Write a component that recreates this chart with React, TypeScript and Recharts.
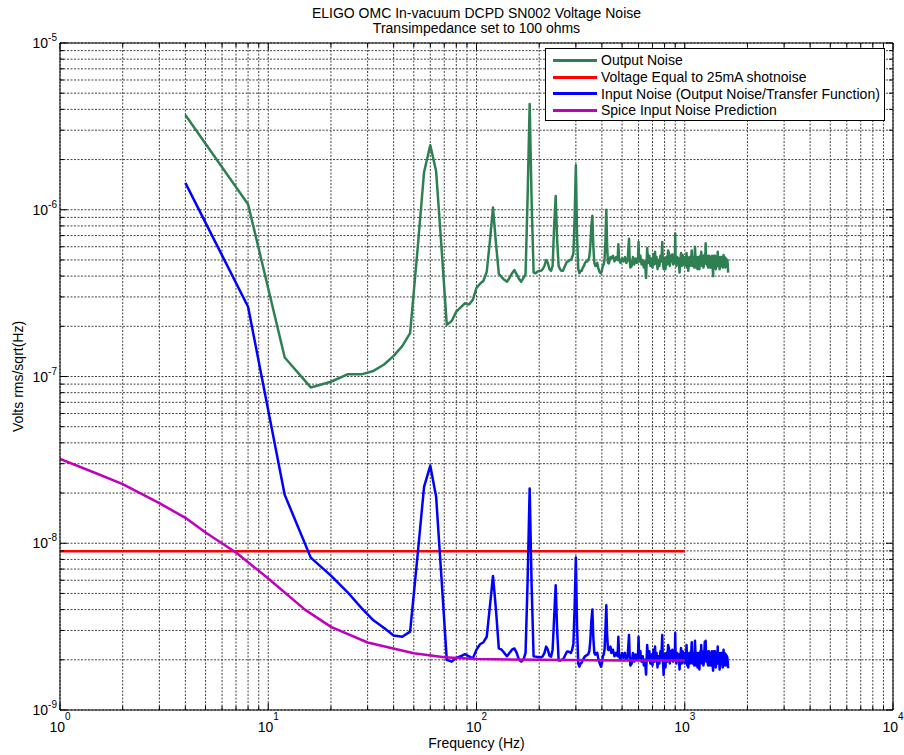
import React from "react";
import {
  LineChart,
  Line,
  XAxis,
  YAxis,
  CartesianGrid,
  ReferenceLine,
  Legend,
} from "recharts";

// rows are [frequency Hz, output noise V/rtHz, input noise V/rtHz]
const lowBand: [number, number, number][] = [
  [4, 3.7e-6, 1.45e-6],
  [8, 1.08e-6, 2.62e-7],
  [12, 1.3e-7, 1.95e-8],
  [16, 8.6e-8, 8.2e-9],
  [20, 9.3e-8, 6.4e-9],
  [24, 1.03e-7, 5.1e-9],
  [28, 1.03e-7, 4.1e-9],
  [32, 1.08e-7, 3.45e-9],
  [36, 1.18e-7, 3.1e-9],
  [40, 1.33e-7, 2.8e-9],
  [44, 1.52e-7, 2.75e-9],
  [48, 1.82e-7, 2.95e-9],
  [52, 5.6e-7, 8.2e-9],
  [56, 1.68e-6, 2.18e-8],
  [60, 2.44e-6, 2.92e-8],
  [64, 1.7e-6, 1.9e-8],
  [68, 5.8e-7, 6.0e-9],
  [72, 2.04e-7, 2.0e-9],
  [76, 2.15e-7, 1.95e-9],
  [80, 2.45e-7, 2.05e-9],
  [84, 2.6e-7, 2.1e-9],
  [88, 2.75e-7, 2.16e-9],
  [92, 2.7e-7, 2.1e-9],
  [96, 2.88e-7, 2.04e-9],
  [100, 3.4e-7, 2.3e-9],
  [104, 3.6e-7, 2.48e-9],
  [108, 3.75e-7, 2.55e-9],
  [112, 4.25e-7, 2.75e-9],
];

const harmonicBand: [number, number, number][] = [
  [116, 6.5e-7, 4.2e-9],
  [120, 1.03e-6, 6.37e-9],
  [124, 6.3e-7, 4.0e-9],
  [128, 4.12e-7, 2.34e-9],
  [132, 3.95e-7, 2.3e-9],
  [136, 3.8e-7, 2.2e-9],
  [140, 3.7e-7, 2.1e-9],
  [144, 3.9e-7, 2.2e-9],
  [148, 4.15e-7, 2.3e-9],
  [152, 4.35e-7, 2.34e-9],
  [156, 4.1e-7, 2.2e-9],
  [160, 3.85e-7, 2.0e-9],
  [164, 3.7e-7, 1.95e-9],
  [168, 3.9e-7, 2.0e-9],
  [172, 4.1e-7, 2.2e-9],
  [176, 1.2e-6, 6.0e-9],
  [180, 4.3e-6, 2.13e-8],
  [184, 1.1e-6, 5.5e-9],
  [188, 4.2e-7, 2.1e-9],
  [192, 4.16e-7, 2.09e-9],
  [196, 4.25e-7, 2.08e-9],
  [200, 4.3e-7, 2.07e-9],
  [204, 4.3e-7, 2.07e-9],
  [208, 4.4e-7, 2.1e-9],
  [212, 4.6e-7, 2.2e-9],
  [216, 5.0e-7, 2.4e-9],
  [220, 4.8e-7, 2.3e-9],
  [224, 4.4e-7, 2.12e-9],
  [228, 4.3e-7, 2.09e-9],
  [232, 4.6e-7, 2.3e-9],
  [236, 8.0e-7, 3.6e-9],
  [240, 1.21e-6, 5.6e-9],
  [244, 6.5e-7, 3.0e-9],
  [248, 4.6e-7, 1.98e-9],
  [252, 4.4e-7, 1.98e-9],
  [256, 4.3e-7, 2.0e-9],
  [260, 4.3e-7, 2.0e-9],
  [264, 4.5e-7, 2.08e-9],
  [268, 4.7e-7, 2.16e-9],
  [272, 4.9e-7, 2.24e-9],
  [276, 4.9e-7, 2.24e-9],
  [280, 5.0e-7, 2.22e-9],
  [284, 5.0e-7, 2.2e-9],
  [288, 5.2e-7, 2.3e-9],
  [292, 5.5e-7, 2.5e-9],
  [296, 9.0e-7, 4.2e-9],
  [300, 1.85e-6, 8.2e-9],
  [304, 7.0e-7, 3.2e-9],
  [308, 4.4e-7, 1.9e-9],
  [312, 4.16e-7, 1.82e-9],
  [316, 4.3e-7, 1.9e-9],
  [320, 4.3e-7, 1.92e-9],
  [324, 4.5e-7, 2.0e-9],
  [328, 4.6e-7, 2.05e-9],
  [332, 4.8e-7, 2.1e-9],
  [336, 4.9e-7, 2.12e-9],
  [340, 4.9e-7, 2.14e-9],
  [344, 5.0e-7, 2.16e-9],
  [348, 5.2e-7, 2.25e-9],
  [352, 6.0e-7, 2.6e-9],
  [356, 8.0e-7, 3.4e-9],
  [360, 9.2e-7, 4.0e-9],
  [364, 6.0e-7, 2.7e-9],
  [368, 4.8e-7, 2.2e-9],
  [372, 4.6e-7, 2.15e-9],
  [376, 4.6e-7, 2.19e-9],
  [380, 4.8e-7, 2.2e-9],
  [384, 4.5e-7, 2.05e-9],
  [388, 4.3e-7, 1.95e-9],
  [392, 4.2e-7, 1.88e-9],
  [396, 4.16e-7, 1.82e-9],
  [400, 4.3e-7, 1.9e-9],
  [404, 4.6e-7, 2.1e-9],
  [408, 4.7e-7, 2.15e-9],
  [412, 5.0e-7, 2.3e-9],
  [416, 6.5e-7, 3.0e-9],
  [420, 1.0e-6, 4.25e-9],
  [424, 6.0e-7, 2.8e-9],
  [428, 4.8e-7, 2.3e-9],
  [432, 4.77e-7, 2.29e-9],
  [436, 5.0e-7, 2.35e-9],
  [440, 5.2e-7, 2.4e-9],
];

const noiseBand: [number, number, number][] = [
  [444, 5.1e-7, 2.2e-9],
  [452, 5.3e-7, 2.3e-9],
  [460, 4.9e-7, 2.1e-9],
  [468, 5.2e-7, 2.2e-9],
  [476, 5.0e-7, 2.1e-9],
  [480, 6.2e-7, 2.75e-9],
  [484, 5.0e-7, 2.1e-9],
  [492, 4.8e-7, 2.0e-9],
  [500, 5.1e-7, 2.2e-9],
  [508, 4.9e-7, 2.05e-9],
  [516, 5.2e-7, 2.2e-9],
  [524, 4.8e-7, 2.0e-9],
  [532, 5.0e-7, 2.1e-9],
  [540, 6.7e-7, 2.82e-9],
  [544, 5.0e-7, 2.1e-9],
  [548, 4.5e-7, 1.85e-9],
  [556, 4.6e-7, 1.9e-9],
  [564, 5.2e-7, 2.2e-9],
  [572, 4.7e-7, 1.95e-9],
  [580, 5.1e-7, 2.15e-9],
  [588, 4.8e-7, 2.0e-9],
  [596, 5.0e-7, 2.1e-9],
  [600, 6.4e-7, 2.75e-9],
  [604, 4.9e-7, 2.05e-9],
  [612, 5.3e-7, 2.25e-9],
  [620, 4.7e-7, 1.95e-9],
  [628, 5.0e-7, 2.1e-9],
  [636, 4.5e-7, 1.85e-9],
  [644, 4.9e-7, 2.0e-9],
  [652, 3.9e-7, 1.63e-9],
  [660, 5.9e-7, 2.45e-9],
  [668, 4.8e-7, 2.0e-9],
  [676, 5.3e-7, 2.25e-9],
  [684, 4.6e-7, 1.9e-9],
  [692, 5.1e-7, 2.15e-9],
  [700, 4.5e-7, 1.85e-9],
  [708, 5.4e-7, 2.3e-9],
  [716, 4.7e-7, 1.95e-9],
  [720, 5.6e-7, 2.4e-9],
  [724, 4.8e-7, 2.0e-9],
  [732, 5.2e-7, 2.2e-9],
  [740, 4.4e-7, 1.8e-9],
  [748, 5.0e-7, 2.1e-9],
  [756, 4.6e-7, 1.9e-9],
  [764, 5.3e-7, 2.25e-9],
  [772, 4.9e-7, 2.05e-9],
  [780, 6.4e-7, 2.82e-9],
  [784, 5.0e-7, 2.1e-9],
  [792, 4.4e-7, 1.62e-9],
  [800, 5.1e-7, 2.15e-9],
  [808, 4.4e-7, 1.8e-9],
  [816, 5.2e-7, 2.2e-9],
  [824, 4.7e-7, 1.95e-9],
  [832, 5.7e-7, 2.45e-9],
  [840, 5.5e-7, 2.35e-9],
  [848, 4.6e-7, 1.9e-9],
  [856, 5.3e-7, 2.25e-9],
  [864, 4.9e-7, 2.05e-9],
  [872, 5.4e-7, 2.3e-9],
  [880, 4.7e-7, 1.95e-9],
  [888, 5.2e-7, 2.2e-9],
  [896, 4.8e-7, 2.0e-9],
  [900, 7.2e-7, 2.9e-9],
  [904, 5.0e-7, 2.1e-9],
  [912, 4.6e-7, 1.9e-9],
  [920, 5.2e-7, 2.2e-9],
  [928, 4.8e-7, 2.0e-9],
  [936, 5.1e-7, 2.15e-9],
  [944, 4.2e-7, 1.75e-9],
  [952, 5.0e-7, 2.1e-9],
  [960, 5.5e-7, 2.35e-9],
  [968, 4.6e-7, 1.9e-9],
  [976, 5.35e-7, 2.25e-9],
  [984, 4.7e-7, 1.95e-9],
  [992, 5.2e-7, 2.2e-9],
  [1000, 4.6e-7, 1.9e-9],
  [1006, 5.2e-7, 2.2e-9],
  [1012, 4.7e-7, 1.95e-9],
  [1020, 5.5e-7, 2.45e-9],
  [1028, 4.5e-7, 1.85e-9],
  [1034, 5.1e-7, 2.15e-9],
  [1040, 4.3e-7, 1.8e-9],
  [1046, 4.9e-7, 2.05e-9],
  [1052, 5.2e-7, 2.2e-9],
  [1058, 4.6e-7, 1.9e-9],
  [1064, 4.7e-7, 1.95e-9],
  [1070, 5.2e-7, 2.2e-9],
  [1076, 5.3e-7, 2.3e-9],
  [1080, 5.7e-7, 2.55e-9],
  [1088, 4.6e-7, 1.9e-9],
  [1094, 5.2e-7, 2.2e-9],
  [1100, 5.1e-7, 2.15e-9],
  [1106, 4.6e-7, 1.9e-9],
  [1112, 4.5e-7, 1.85e-9],
  [1120, 6.0e-7, 2.6e-9],
  [1128, 4.8e-7, 2.0e-9],
  [1134, 4.5e-7, 1.85e-9],
  [1140, 5.2e-7, 2.2e-9],
  [1146, 4.8e-7, 2.0e-9],
  [1152, 4.4e-7, 1.8e-9],
  [1158, 5.2e-7, 2.2e-9],
  [1164, 5.0e-7, 2.1e-9],
  [1170, 4.7e-7, 1.95e-9],
  [1176, 4.4e-7, 1.75e-9],
  [1182, 5.0e-7, 2.1e-9],
  [1188, 5.3e-7, 2.25e-9],
  [1194, 4.7e-7, 1.95e-9],
  [1200, 5.6e-7, 2.45e-9],
  [1206, 4.8e-7, 2.0e-9],
  [1212, 4.6e-7, 1.9e-9],
  [1218, 5.3e-7, 2.25e-9],
  [1224, 5.1e-7, 2.15e-9],
  [1230, 4.5e-7, 1.85e-9],
  [1236, 4.7e-7, 1.95e-9],
  [1242, 5.2e-7, 2.2e-9],
  [1248, 5.4e-7, 2.57e-9],
  [1254, 4.8e-7, 2.0e-9],
  [1260, 6.3e-7, 2.6e-9],
  [1266, 5.0e-7, 2.1e-9],
  [1272, 4.7e-7, 1.95e-9],
  [1278, 5.3e-7, 2.25e-9],
  [1284, 5.1e-7, 2.15e-9],
  [1290, 4.6e-7, 1.9e-9],
  [1296, 4.5e-7, 1.85e-9],
  [1302, 5.1e-7, 2.15e-9],
  [1308, 5.3e-7, 2.25e-9],
  [1314, 4.6e-7, 1.9e-9],
  [1320, 4.9e-7, 2.05e-9],
  [1326, 4.5e-7, 1.85e-9],
  [1332, 5.2e-7, 2.2e-9],
  [1338, 4.8e-7, 2.0e-9],
  [1344, 4.5e-7, 1.85e-9],
  [1350, 5.3e-7, 2.25e-9],
  [1356, 5.0e-7, 2.1e-9],
  [1362, 4.5e-7, 1.85e-9],
  [1368, 4.0e-7, 1.72e-9],
  [1374, 5.0e-7, 2.1e-9],
  [1380, 5.3e-7, 2.25e-9],
  [1386, 4.6e-7, 1.9e-9],
  [1392, 4.7e-7, 1.95e-9],
  [1398, 5.3e-7, 2.25e-9],
  [1404, 5.1e-7, 2.15e-9],
  [1410, 4.4e-7, 1.8e-9],
  [1416, 4.6e-7, 1.9e-9],
  [1422, 5.0e-7, 2.1e-9],
  [1428, 5.2e-7, 2.2e-9],
  [1434, 4.6e-7, 1.9e-9],
  [1440, 5.6e-7, 2.4e-9],
  [1446, 4.8e-7, 2.0e-9],
  [1452, 4.6e-7, 1.9e-9],
  [1458, 5.2e-7, 2.2e-9],
  [1464, 5.0e-7, 2.1e-9],
  [1470, 4.4e-7, 1.75e-9],
  [1476, 4.5e-7, 1.8e-9],
  [1482, 5.1e-7, 2.15e-9],
  [1488, 5.2e-7, 2.2e-9],
  [1494, 4.6e-7, 1.9e-9],
  [1500, 4.7e-7, 1.95e-9],
  [1506, 5.2e-7, 2.2e-9],
  [1512, 5.1e-7, 2.15e-9],
  [1518, 4.6e-7, 1.9e-9],
  [1524, 4.5e-7, 1.8e-9],
  [1530, 5.0e-7, 2.1e-9],
  [1536, 5.35e-7, 2.3e-9],
  [1542, 4.6e-7, 1.9e-9],
  [1548, 4.8e-7, 2.0e-9],
  [1554, 5.2e-7, 2.2e-9],
  [1560, 5.1e-7, 2.15e-9],
  [1566, 4.5e-7, 1.85e-9],
  [1572, 4.6e-7, 1.85e-9],
  [1578, 5.1e-7, 2.15e-9],
  [1584, 5.0e-7, 2.05e-9],
  [1590, 4.6e-7, 1.9e-9],
  [1596, 4.9e-7, 2.1e-9],
  [1602, 5.0e-7, 2.05e-9],
  [1608, 4.7e-7, 1.95e-9],
  [1616, 4.2e-7, 1.78e-9],
];

// 25 mA shot noise across 100 ohms
const shotFreq = [1, 1000];
const shotLevel = 8.94e-9;

const spiceFreq = [1, 1.5, 2, 3, 4, 5, 7, 10, 15, 20, 30, 50, 70, 100, 200, 500, 1000];
const spiceNoise = [
  3.2e-8, 2.62e-8, 2.26e-8, 1.74e-8, 1.42e-8, 1.16e-8, 8.8e-9, 6.15e-9, 4.0e-9,
  3.15e-9, 2.54e-9, 2.19e-9, 2.07e-9, 2.02e-9, 2.0e-9, 1.98e-9, 1.98e-9,
];

const xDecades = [0, 1, 2, 3, 4];
const yDecades = [-9, -8, -7, -6, -5];

const seriesNames = [
  "Output Noise",
  "Voltage Equal to 25mA shotnoise",
  "Input Noise (Output Noise/Transfer Function)",
  "Spice Input Noise Prediction",
];
const seriesColors = ["#2e8053", "#ff0000", "#0000ff", "#bf00bf"];

const W = 904;
const H = 755;
const MARGIN = { top: 43, right: 11, bottom: 0, left: 0 };
const Y_AXIS_W = 60;
const X_AXIS_H = 45;
const PLOT_W = W - MARGIN.left - MARGIN.right - Y_AXIS_W;
const PLOT_H = H - MARGIN.top - MARGIN.bottom - X_AXIS_H;
const FONT = '"Liberation Sans", Arial, Helvetica, sans-serif';

const withMinors = (decades: number[]) => {
  const out: number[] = [];
  decades.forEach((d, i) => {
    const base = Math.pow(10, d);
    if (i === decades.length - 1) {
      out.push(base);
      return;
    }
    for (let m = 1; m <= 9; m++) out.push(Number((m * base).toPrecision(3)));
  });
  return out;
};
const xTicks = withMinors(xDecades);
const yTicks = withMinors(yDecades);

const allRows = [...lowBand, ...harmonicBand, ...noiseBand];
const outputData = allRows.map(([f, out]) => ({ f, v: out }));
const inputData = allRows.map(([f, , inp]) => ({ f, v: inp }));
const shotData = shotFreq.map((f) => ({ f, v: shotLevel }));
const spiceData = spiceFreq.map((f, i) => ({ f, v: spiceNoise[i] }));

const decadeOf = (v: number) => {
  const l = Math.log10(v);
  const e = Math.round(l);
  return Math.abs(l - e) < 1e-6 ? e : null;
};

const XTick = (props: any) => {
  const { x, y, payload } = props;
  const exp = decadeOf(payload.value);
  const len = exp !== null ? 7 : 4;
  return (
    <g>
      <line x1={x} x2={x} y1={y} y2={y - len} stroke="#000" />
      <line x1={x} x2={x} y1={y - PLOT_H} y2={y - PLOT_H + len} stroke="#000" />
      {exp !== null && (
        <text x={x} y={y + 22} textAnchor="middle" fontSize={14} fontFamily={FONT} fill="#000">
          <tspan>10</tspan>
          <tspan dy={-12} fontSize={10}>
            {exp}
          </tspan>
        </text>
      )}
    </g>
  );
};

const YTick = (props: any) => {
  const { x, y, payload } = props;
  const exp = decadeOf(payload.value);
  const len = exp !== null ? 7 : 4;
  return (
    <g>
      <line x1={x} x2={x + len} y1={y} y2={y} stroke="#000" />
      <line x1={x + PLOT_W} x2={x + PLOT_W - len} y1={y} y2={y} stroke="#000" />
      {exp !== null && (
        <text x={x - 3} y={y + 5} textAnchor="end" fontSize={14} fontFamily={FONT} fill="#000">
          <tspan>10</tspan>
          <tspan dy={-7} fontSize={10}>
            {exp}
          </tspan>
        </text>
      )}
    </g>
  );
};

const LegendBox = () => (
  <div
    style={{
      width: 340,
      height: 73,
      boxSizing: "border-box",
      border: "1px solid #000",
      background: "#fff",
      paddingTop: 3,
      fontFamily: FONT,
      fontSize: 14,
      color: "#000",
      textAlign: "left",
    }}
  >
    {seriesNames.map((name, i) => (
      <div key={name} style={{ display: "flex", alignItems: "center", height: 16.7 }}>
        <span
          style={{
            display: "inline-block",
            width: 44,
            height: 3,
            marginLeft: 7,
            marginRight: 4,
            background: seriesColors[i],
          }}
        />
        <span style={{ lineHeight: "16px", whiteSpace: "nowrap" }}>{name}</span>
      </div>
    ))}
  </div>
);

export default function App() {
  return (
    <div
      style={{
        position: "absolute",
        left: 0,
        top: 0,
        width: W,
        height: H,
        background: "#fff",
        fontFamily: FONT,
      }}
    >
      <div
        style={{
          position: "absolute",
          left: Y_AXIS_W,
          top: 6,
          width: PLOT_W,
          textAlign: "center",
          fontSize: 14,
          lineHeight: "15px",
          color: "#000",
          zIndex: 2,
        }}
      >
        <div>ELIGO OMC In-vacuum DCPD SN002 Voltage Noise</div>
        <div>Transimpedance set to 100 ohms</div>
      </div>
      <LineChart width={W} height={H} margin={MARGIN}>
        <CartesianGrid stroke="#444" strokeDasharray="2 1.5" />
        <XAxis
          dataKey="f"
          type="number"
          scale="log"
          domain={[1, 10000]}
          allowDataOverflow
          ticks={xTicks}
          interval={0}
          tick={<XTick />}
          tickLine={false}
          tickSize={0}
          tickMargin={0}
          height={X_AXIS_H}
          axisLine={{ stroke: "#000" }}
          label={{
            value: "Frequency (Hz)",
            position: "insideBottom",
            offset: 7,
            fill: "#000",
            fontSize: 14,
            fontFamily: FONT,
          }}
        />
        <YAxis
          dataKey="v"
          type="number"
          scale="log"
          domain={[1e-9, 1e-5]}
          allowDataOverflow
          ticks={yTicks}
          interval={0}
          tick={<YTick />}
          tickLine={false}
          tickSize={0}
          tickMargin={0}
          width={Y_AXIS_W}
          axisLine={{ stroke: "#000" }}
          label={{
            value: "Volts rms/sqrt(Hz)",
            angle: -90,
            position: "insideLeft",
            offset: 18,
            fill: "#000",
            fontSize: 14,
            fontFamily: FONT,
            style: { textAnchor: "middle" },
          }}
        />
        <ReferenceLine y={1e-5} stroke="#000" ifOverflow="visible" />
        <ReferenceLine x={10000} stroke="#000" ifOverflow="visible" />
        <Line
          data={outputData}
          dataKey="v"
          name={seriesNames[0]}
          stroke={seriesColors[0]}
          strokeWidth={2.5}
          strokeLinejoin="round"
          dot={false}
          isAnimationActive={false}
        />
        <Line
          data={shotData}
          dataKey="v"
          name={seriesNames[1]}
          stroke={seriesColors[1]}
          strokeWidth={2.5}
          dot={false}
          isAnimationActive={false}
        />
        <Line
          data={inputData}
          dataKey="v"
          name={seriesNames[2]}
          stroke={seriesColors[2]}
          strokeWidth={2.5}
          strokeLinejoin="round"
          dot={false}
          isAnimationActive={false}
        />
        <Line
          data={spiceData}
          dataKey="v"
          name={seriesNames[3]}
          stroke={seriesColors[3]}
          strokeWidth={2.5}
          strokeLinejoin="round"
          dot={false}
          isAnimationActive={false}
        />
        <Legend
          layout="horizontal"
          verticalAlign="middle"
          align="center"
          content={<LegendBox />}
          wrapperStyle={{ left: 545, top: 48, width: 340, height: 73 }}
        />
      </LineChart>
    </div>
  );
}
